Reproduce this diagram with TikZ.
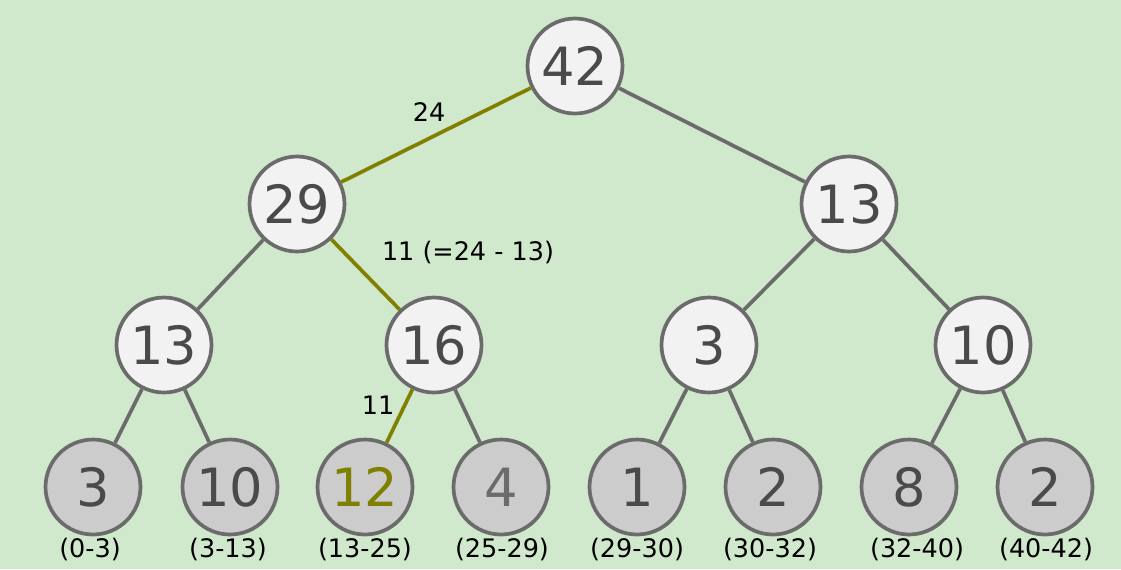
\documentclass[tikz,border=0pt]{standalone}
\usepackage{fontspec}
\setmainfont{DejaVu Sans}
\usepackage{tikz}
\usetikzlibrary{positioning, calc}
\definecolor{sfondo}{HTML}{D0E8CC}
\definecolor{bordo}{HTML}{6B6B6B}
\definecolor{testo}{HTML}{4A4A4A}
\definecolor{chiaro}{HTML}{6B6B6B}
\definecolor{oliva}{HTML}{808000}
\definecolor{interno}{HTML}{F2F2F2}
\definecolor{grigio}{HTML}{CCCCCC}

\begin{document}
\begin{tikzpicture}[x=0.02cm, y=-0.02cm,
    nodo/.style={circle, draw=bordo, line width=2.1pt, fill=interno, minimum size=1.9cm,
        inner sep=0pt, text=testo, font=\fontsize{30}{30}\selectfont},
    foglia/.style={nodo, fill=grigio},
    arco/.style={draw=bordo, line width=2.1pt},
    cammino/.style={draw=oliva, line width=2.1pt},
    etichetta/.style={inner sep=0pt, font=\fontsize{14.5}{14.5}\selectfont},
    intervallo/.style={etichetta}]

    % Sfondo (fissa anche i margini)
    \fill[sfondo] (0,0) rectangle (1121,569);

    % Nodi interni
    \node[nodo] (n1) at (575,66) {42};
    \node[nodo] (n2) at (297,204) {29};
    \node[nodo] (n3) at (849,204) {13};
    \node[nodo] (n4) at (164,345) {13};
    \node[nodo] (n5) at (434,345) {16};
    \node[nodo] (n6) at (709,345) {3};
    \node[nodo] (n7) at (983,345) {10};

    % Foglie con gli intervalli sotto
    \foreach \i/\x/\val/\col/\lx/\rng in {8/93/3/testo/90/0-3, 9/230/10/testo/228/3-13,
        10/365/12/oliva/365/13-25, 11/501/4/chiaro/502/25-29, 12/637/1/testo/637/29-30,
        13/773/2/testo/770/30-32, 14/909/8/testo/917/32-40, 15/1045/2/testo/1046/40-42} {
        \node[foglia, text=\col] (n\i) at (\x,487) {\val};
        \node[intervallo] (r\i) at (\lx,549) {(\rng)};
    }

    % Archi grigi
    \draw[arco] (n1) -- (n3);
    \draw[arco] (n2) -- (n4);
    \draw[arco] (n3) -- (n6);
    \draw[arco] (n3) -- (n7);
    \draw[arco] (n4) -- (n8);
    \draw[arco] (n4) -- (n9);
    \draw[arco] (n5) -- (n11);
    \draw[arco] (n6) -- (n12);
    \draw[arco] (n6) -- (n13);
    \draw[arco] (n7) -- (n14);
    \draw[arco] (n7) -- (n15);

    % Cammino di ricerca (oliva)
    \draw[cammino] (n1) -- (n2);
    \draw[cammino] (n2) -- (n5);
    \draw[cammino] (n5) -- (n10);

    % Etichette sugli archi
    \node[etichetta] (e1) at (429,112) {24};
    \node[etichetta] (e2) at (468,253) {11 (=24 - 13)};
    \node[etichetta] (e3) at (378,405) {11};

\end{tikzpicture}
\end{document}
